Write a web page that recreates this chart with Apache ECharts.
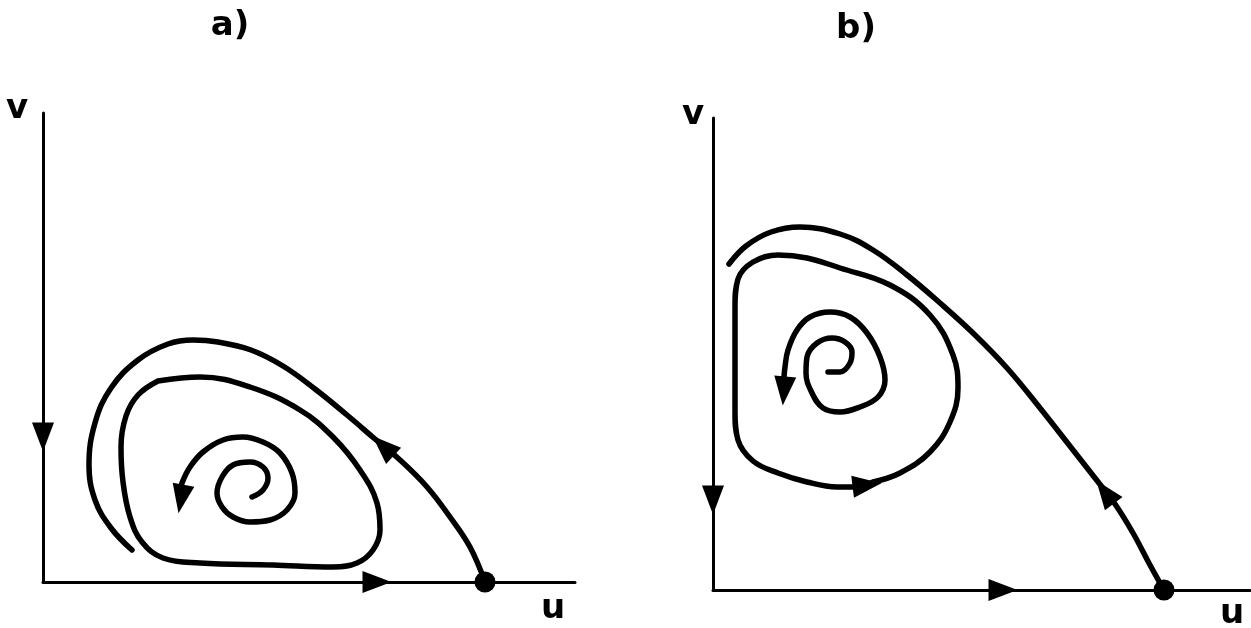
<!DOCTYPE html>
<html>
<head>
<meta charset="utf-8">
<script src="https://cdn.jsdelivr.net/npm/echarts@6/dist/echarts.min.js"></script>
<style>
  html, body { margin: 0; padding: 0; background: #fff; }
  #chart { width: 1251px; height: 628px; }
</style>
</head>
<body>
<div id="chart"></div>
<script>
// panel a) — points are [u, v] measured from the origin
var separatrixA = [[442,0],[427,35],[407,65],[384,95],[357,122],[332,143],[304,167],[272,193],[240,216],
  [208,232],[175,240],[150,242],[125,238],[95,222],[68,194],[52,159],[46,117],[52,82],[68,54],[89,32]];
var loopA = [[115,201],[157,205],[207,195],[257,172],[290,145],[317,112],[334,79],[337,52],[330,32],
  [314,19],[290,15],[230,17],[157,19],[120,24],[99,40],[87,65],[80,100],[78,135],[83,166],[95,187],
  [115,201]];
var spiralA = [[209,85],[220,92],[225,104],[220,115],[207,120],[190,117],[179,105],[174,89],[179,75],
  [190,65],[207,60],[227,62],[244,72],[252,89],[249,109],[237,129],[220,140],[200,145],[180,142],
  [160,130],[147,115],[139,99],[137,90]];
// arrow heads: [u, v, rotation in degrees]
var arrowsA = [[0,145,180],[334,0,-90],[340,136,47],[138,83,170]];
var pointA = [[442,0]];

// panel b)
var separatrixB = [[451,0],[437,25],[420,57],[402,86],[382,112],[360,140],[327,182],[294,222],[261,256],
  [227,287],[194,315],[160,340],[127,356],[87,363],[58,358],[33,344],[16,326]];
var loopB = [[160,108],[187,117],[217,138],[237,168],[245,202],[240,235],[217,275],[177,305],[127,322],
  [94,332],[65,335],[40,328],[25,311],[22,283],[22,230],[22,178],[25,150],[40,129],[65,117],[94,108],
  [124,103],[145,103],[160,108]];
var spiralB = [[115,218],[127,218],[137,227],[139,238],[132,248],[119,252],[104,247],[94,233],[93,217],
  [99,197],[110,182],[127,178],[147,183],[165,193],[172,210],[167,233],[154,257],[137,273],[117,278],
  [97,273],[84,260],[75,240],[72,223],[71,213]];
var arrowsB = [[0,90,180],[290,0,-90],[392,98,37],[154,105,-83],[71,199,175]];
var pointB = [[451,0]];

var chart = echarts.init(document.getElementById('chart'));

function axisStyle(idx, max) {
  return {
    type: 'value', gridIndex: idx, min: 0, max: max,
    axisLine: { show: true, lineStyle: { color: '#000', width: 3 } },
    axisTick: { show: false },
    axisLabel: { show: false },
    splitLine: { show: false }
  };
}
function curve(data, idx) {
  return {
    type: 'line', xAxisIndex: idx, yAxisIndex: idx, data: data,
    smooth: 0.4, showSymbol: false, clip: false, silent: true,
    lineStyle: { color: '#000', width: 5.5, cap: 'round', join: 'round' }
  };
}
function arrows(data, idx) {
  return {
    type: 'scatter', xAxisIndex: idx, yAxisIndex: idx, clip: false, silent: true,
    symbol: 'triangle', symbolSize: [22, 29],
    itemStyle: { color: '#000', opacity: 1 },
    data: data.map(function (a) { return { value: [a[0], a[1]], symbolRotate: a[2] }; })
  };
}
function dot(data, idx) {
  return {
    type: 'scatter', xAxisIndex: idx, yAxisIndex: idx, clip: false, silent: true,
    symbol: 'circle', symbolSize: 21, itemStyle: { color: '#000', opacity: 1 }, data: data
  };
}
function label(text, x, y) {
  return {
    type: 'text', x: x, y: y,
    style: { text: text, fill: '#000', font: 'bold 34px "DejaVu Sans"', align: 'center', verticalAlign: 'middle' }
  };
}

var option = {
  backgroundColor: '#fff',
  animation: false,
  grid: [
    { left: 43, top: 113, width: 532, height: 469 },
    { left: 713, top: 118, width: 537, height: 472 }
  ],
  xAxis: [axisStyle(0, 532), axisStyle(1, 537)],
  yAxis: [axisStyle(0, 469), axisStyle(1, 472)],
  graphic: [
    label('a)', 230, 26),
    label('b)', 856, 29),
    label('v', 17, 109),
    label('u', 553, 609),
    label('v', 693, 115),
    label('u', 1232, 614)
  ],
  series: [
    curve(separatrixA, 0), curve(loopA, 0), curve(spiralA, 0), arrows(arrowsA, 0), dot(pointA, 0),
    curve(separatrixB, 1), curve(loopB, 1), curve(spiralB, 1), arrows(arrowsB, 1), dot(pointB, 1)
  ]
};

chart.setOption(option);
window.addEventListener('resize', function () {
  chart.resize();
});
</script>
</body>
</html>
